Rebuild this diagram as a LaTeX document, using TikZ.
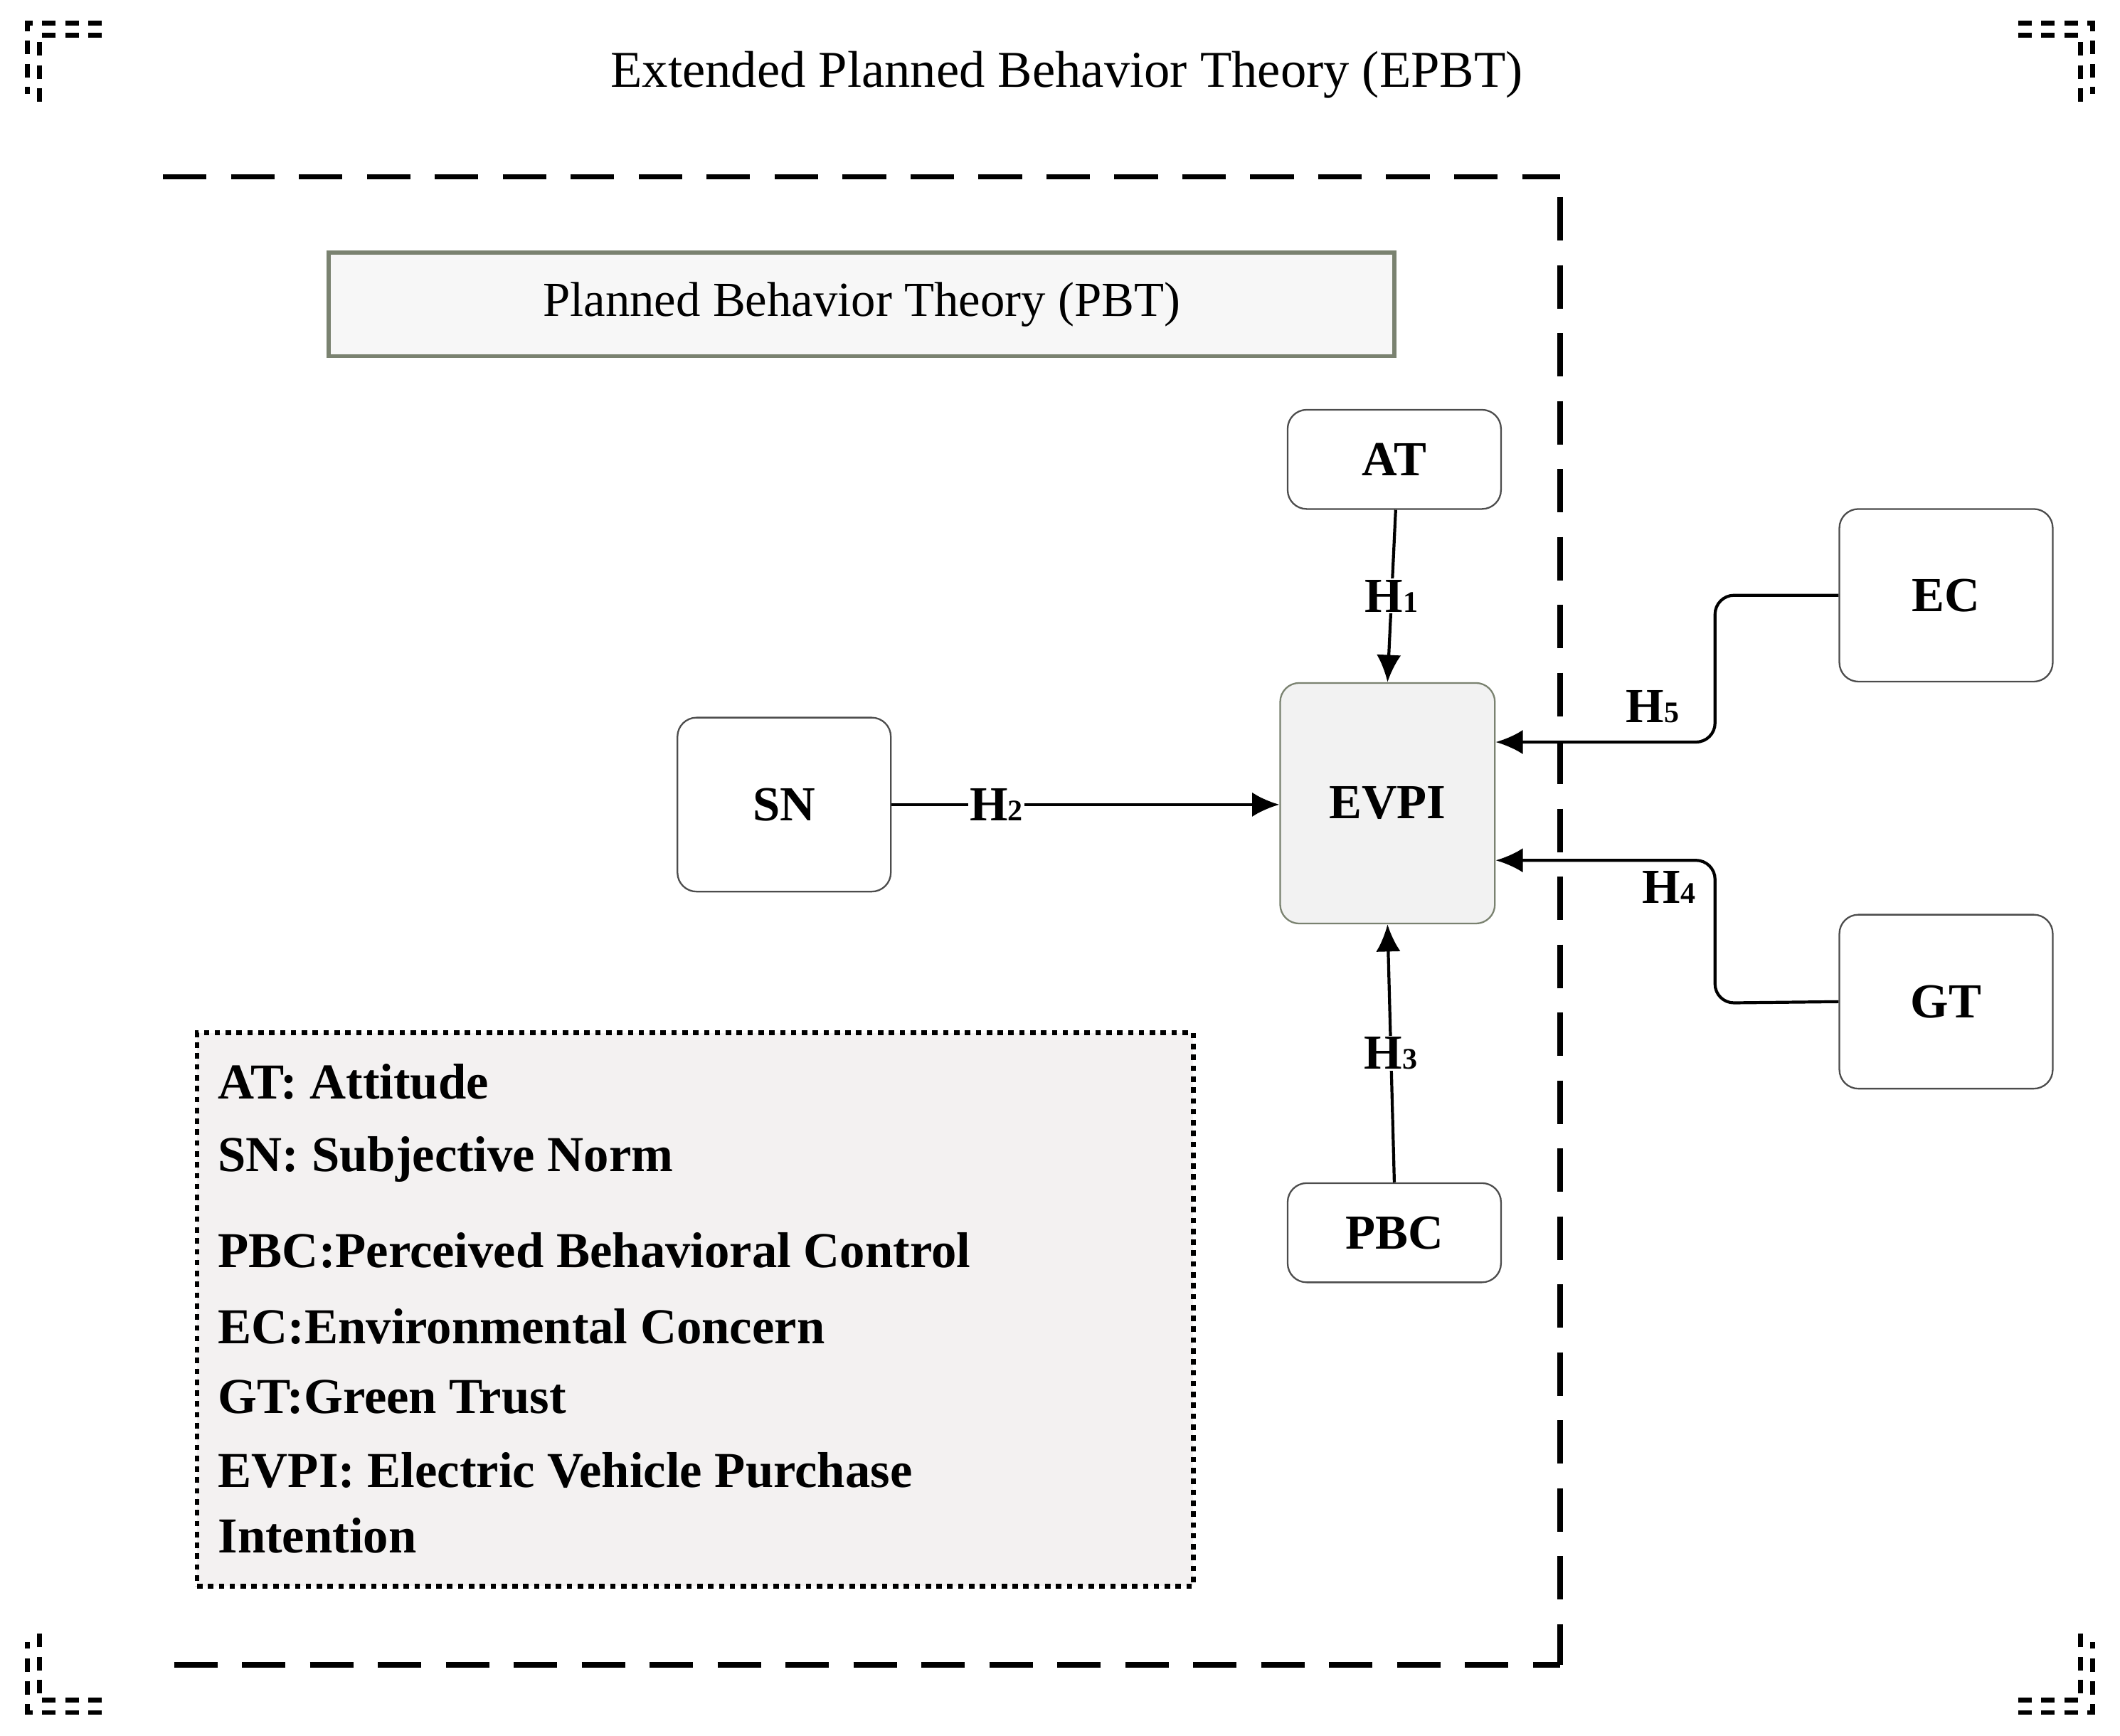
\documentclass[tikz,border=0pt]{standalone}
\usepackage{fontspec}
\setmainfont{Liberation Serif}
\begin{document}
\begin{tikzpicture}[x=1pt,y=-1pt,
 box/.style={draw=black!70,line width=1.2pt,rounded corners=14pt,minimum width=157pt,font=\fontsize{36}{40}\selectfont\bfseries},
 arr/.style={line width=2.2pt,-{Latex[length=20pt,width=18pt]}},
 lab/.style={fill=white,inner sep=1pt,font=\fontsize{36}{40}\selectfont\bfseries},
 big/.style={line width=4pt,dash pattern=on 32pt off 18pt},
 crn/.style={line width=3.5pt,dash pattern=on 10pt off 7pt},
 leg/.style={anchor=west,font=\fontsize{37}{40}\selectfont\bfseries}]
\usetikzlibrary{arrows.meta}
\newcommand{\Hs}[1]{H{\fontsize{22}{24}\selectfont\bfseries #1}}
\useasboundingbox (0,0) rectangle (1560,1277);
% corner marks
\foreach \sx/\sy/\ox/\oy in {20/17/1/1,1540/17/-1/1,20/1260/1/-1,1540/1260/-1/-1}{
 \draw[crn] (\sx+\ox*55,\sy) -- (\sx,\sy) -- (\sx,\sy+\oy*52);
 \draw[crn] (\sx+\ox*55,\sy+\oy*9) -- (\sx+\ox*9,\sy+\oy*9) -- (\sx+\ox*9,\sy+\oy*58);
}
\node[font=\fontsize{38}{42}\selectfont] (title) at (785,55) {Extended Planned Behavior Theory (EPBT)};
\draw[big] (120,130) -- (1148,130);
\draw[big] (1148,145) -- (1148,1225);
\draw[big] (128,1225) -- (1148,1225);
\node[draw={rgb,255:red,122;green,130;blue,112},fill=black!3,line width=3pt,minimum width=784pt,minimum height=76pt,font=\fontsize{36}{40}\selectfont] (pbt) at (634,224) {Planned Behavior Theory (PBT)};
\node[box,minimum height=73pt] (AT) at (1026,338) {AT};
\node[box,minimum height=127pt] (EC) at (1432,438) {EC};
\node[box,minimum height=128pt] (GT) at (1432,737) {GT};
\node[box,minimum height=128pt] (SN) at (577,592) {SN};
\node[box,minimum height=73pt] (PBC) at (1026,907) {PBC};
\node[box,fill=black!5,draw={rgb,255:red,122;green,130;blue,112},minimum width=158pt,minimum height=177pt] (EVPI) at (1021,591) {EVPI};
\draw[arr] (AT.south) ++(1,0) -- (EVPI.north) node[lab,pos=0.5] {\Hs{1}};
\draw[arr] (SN.east) -- (EVPI.west|-SN.east) node[lab,pos=0.27] {\Hs{2}};
\draw[arr] (PBC.north) -- (EVPI.south) node[lab,pos=0.5] {\Hs{3}};
\coordinate (e1) at (1262,438);
\coordinate (e2) at (1262,546);
\draw[arr,rounded corners=14pt] (EC.west) -- (e1) -- (e2) -- (EVPI.east|-e2);
\node[lab,fill=none] (h5) at (1216,520) {\Hs{5}};
\coordinate (g1) at (1262,738);
\coordinate (g2) at (1262,633);
\draw[arr,rounded corners=14pt] (GT.west) -- (g1) -- (g2) -- (EVPI.east|-g2);
\node[lab,fill=none] (h4) at (1228,653) {\Hs{4}};
\node[draw,fill={rgb,255:red,243;green,241;blue,241},line width=3.5pt,dash pattern=on 4pt off 4pt,minimum width=733pt,minimum height=407pt] (legend) at (511.5,963.5) {};
\node[leg] (l1) at (157,796) {AT: Attitude};
\node[leg] (l2) at (157,853) {SN: Subjective Norm};
\node[leg] (l3) at (157,920) {PBC:Perceived Behavioral Control};
\node[leg] (l4) at (157,976) {EC:Environmental Concern};
\node[leg] (l5) at (157,1028) {GT:Green Trust};
\node[leg] (l6) at (157,1082) {EVPI: Electric Vehicle Purchase};
\node[leg] (l7) at (157,1130) {Intention};
\end{tikzpicture}
\end{document}
